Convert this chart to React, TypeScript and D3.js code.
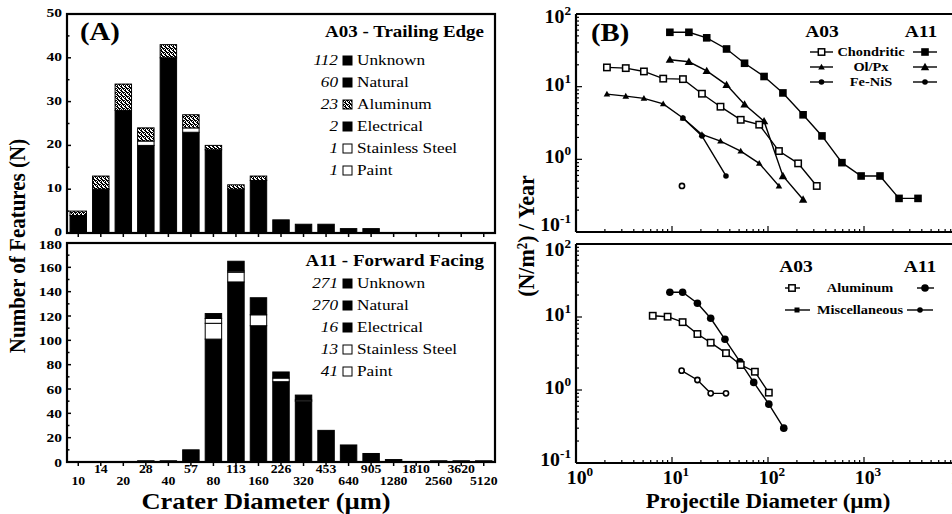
import React from "react";
import * as d3 from "d3";

const FONT = "'Liberation Serif', 'Times New Roman', serif";
const SX = 1.15;

// ---------- Panel A data ----------
const binLabels = ["10","14","20","28","40","57","80","113","160","226","320","453","640","905","1280","1810","2560","3620","5120"];

// A03 trailing edge (stacked, bottom to top)
const a03Black = [4,10,28,20,40,23,19,10,12,3,2,2,1,1,0,0,0,0,0];
const a03Steel = [0,0,0,1,0,0,0,0,0,0,0,0,0,0,0,0,0,0,0];
const a03Paint = [0,0,0,0,0,1,0,0,0,0,0,0,0,0,0,0,0,0,0];
const a03Aluminum = [1,3,6,3,3,3,1,1,1,0,0,0,0,0,0,0,0,0,0];

// A11 forward facing (stacked, bottom to top)
const a11Black = [0,0,0,1,1,10,101,148,112,66,50,26,14,7,2,0,1,1,1];
const a11Paint = [0,0,0,0,0,0,13,8,9,3,1,0,0,0,0,0,0,0,0];
const a11Steel = [0,0,0,0,0,0,4,1,0,0,0,0,0,0,0,0,0,0,0];
const a11Electrical = [0,0,0,0,0,0,4,8,14,5,4,0,0,0,0,0,0,0,0];

const a03LegendNames = ["Unknown","Natural","Aluminum","Electrical","Stainless Steel","Paint"];
const a03LegendCounts = ["112","60","23","2","1","1"];
const a11LegendNames = ["Unknown","Natural","Electrical","Stainless Steel","Paint"];
const a11LegendCounts = ["271","270","16","13","41"];

const yTicksA03 = [0,10,20,30,40,50];
const yTicksA11 = [0,20,40,60,80,100,120,140,160,180];

// ---------- Panel B data ----------
const chondA11D = [9.5,15,23,37,57,91,143,232,365,589,933,1468,2317,3652];
const chondA11V = [56,56,47,33,21,13.8,8.2,4.1,2.1,0.9,0.59,0.59,0.29,0.29];
const olpxA11D = [9.5,15,23,37,57,91,143,232];
const olpxA11V = [23.5,22,16.5,10.6,5.7,3.35,0.59,0.28];
const chondA03D = [2.1,3.3,5.1,8.1,13,20.5,32,52,81,130,206,322];
const chondA03V = [18.4,18,16.2,12.9,12.7,8.0,5.3,3.5,3.0,1.3,0.88,0.43];
const olpxA03D = [2.1,3.3,5.1,8.1,13,20.5,32,52,81,130];
const olpxA03V = [7.9,7.4,6.9,5.8,3.7,2.2,1.78,1.3,0.88,0.43];
const fenisA03D = [13,20.5,36.5];
const fenisA03V = [3.7,2.1,0.59];
const loneA03D = [12.7];
const loneA03V = [0.43];

const alA11D = [9.5,12.9,18.4,25.3,35.6,51,71,102,146];
const alA11V = [21.8,21.8,15.4,9.6,4.95,2.44,1.27,0.64,0.30];
const alA03D = [6.3,9.0,12.9,18.4,25.3,36.5,52,73,102];
const alA03V = [10.4,10.1,8.5,5.85,4.45,3.2,2.2,1.78,0.92];
const miscA03D = [12.6,18.4,25.3,36.5];
const miscA03V = [1.84,1.37,0.9,0.9];

const decadesX = [0,1,2,3,4];
const decadesY = [-1,0,1,2];

// ---------- helpers ----------
function T({x,y,anchor="start",size=14,weight="bold",italic=false,rotate=0,sx=SX,children}:any){
  const tr = rotate ? `translate(${x},${y}) rotate(${rotate}) scale(1,${sx})` : `translate(${x},${y}) scale(${sx},1)`;
  return (
    <g transform={tr}>
      <text textAnchor={anchor} fontSize={size} fontWeight={weight} fontStyle={italic?"italic":"normal"} fontFamily={FONT} fill="#000">{children}</text>
    </g>
  );
}

function Marker({type,x,y}:any){
  switch(type){
    case "fsq": return <rect x={x-3.8} y={y-3.8} width={7.6} height={7.6} fill="#000"/>;
    case "osq": return <rect x={x-3.2} y={y-3.2} width={6.4} height={6.4} fill="#fff" stroke="#000" strokeWidth={1.5}/>;
    case "tri": { const s=4.2; return <path d={`M${x},${y-s} L${x+s},${y+s*0.75} L${x-s},${y+s*0.75}Z`} fill="#000"/>; }
    case "stri": { const s=3.3; return <path d={`M${x},${y-s} L${x+s},${y+s*0.75} L${x-s},${y+s*0.75}Z`} fill="#000"/>; }
    case "fcirc": return <circle cx={x} cy={y} r={3.8} fill="#000"/>;
    case "scirc": return <circle cx={x} cy={y} r={2.8} fill="#000"/>;
    case "ocirc": return <circle cx={x} cy={y} r={2.6} fill="#fff" stroke="#000" strokeWidth={1.6}/>;
    case "ssq": return <rect x={x-2.5} y={y-2.5} width={5} height={5} fill="#000"/>;
    default: return null;
  }
}

function Series({D,V,x,y,marker,line=true}:any){
  const pts = D.map((d:number,i:number)=>[x(d),y(V[i])] as [number,number]);
  const path = d3.line()(pts) || "";
  return (
    <g>
      {line && <path d={path} fill="none" stroke="#000" strokeWidth={1.4}/>}
      {pts.map((p:any,i:number)=><Marker key={i} type={marker} x={p[0]} y={p[1]}/>)}
    </g>
  );
}

function LogAxes({x,y,top,bottom,left,labelShift}:any){
  const yt = y.ticks();
  const xt = x.ticks();
  return (
    <g>
      {yt.map((t:number,i:number)=>{
        const major = Math.abs(Math.log10(t)-Math.round(Math.log10(t)))<1e-6;
        return <line key={"y"+i} x1={left} x2={left+(major?6:3)} y1={y(t)} y2={y(t)} stroke="#000" strokeWidth={1.2}/>;
      })}
      {xt.map((t:number,i:number)=>{
        const major = Math.abs(Math.log10(t)-Math.round(Math.log10(t)))<1e-6;
        return <line key={"x"+i} x1={x(t)} x2={x(t)} y1={bottom} y2={bottom-(major?6:3)} stroke="#000" strokeWidth={1.2}/>;
      })}
      <line x1={left} x2={960} y1={top} y2={top} stroke="#000" strokeWidth={2.2}/>
      <line x1={left} x2={960} y1={bottom} y2={bottom} stroke="#000" strokeWidth={2.2}/>
      <line x1={left} x2={left} y1={top} y2={bottom} stroke="#000" strokeWidth={2.2}/>
      {decadesY.map((e,k)=>(
        <g key={"yl"+e}>
          <T x={571} y={y(Math.pow(10,e))+labelShift[k]} anchor="end" size={18} sx={1.1}>10<tspan dy={-8} fontSize={12}>{e}</tspan></T>
        </g>
      ))}
    </g>
  );
}

export default function App(){
  const W=952, H=514;
  // Panel A scales
  const xA = d3.scaleBand<string>().domain(binLabels).range([67,495]).paddingInner(0.27).paddingOuter(0.135);
  const yA1 = d3.scaleLinear().domain([0,50]).range([233,14]);
  const yA2 = d3.scaleLinear().domain([0,180]).range([462,243]);
  // Panel B scales
  const xB = d3.scaleLog().domain([1,1e4]).range([576,960]);
  const yB1 = d3.scaleLog().domain([0.1,100]).range([232,14]);
  const yB2 = d3.scaleLog().domain([0.1,100]).range([463,244]);

  const rowsA03 = binLabels.map((b,i)=>({bin:b,black:a03Black[i],steel:a03Steel[i],paint:a03Paint[i],aluminum:a03Aluminum[i]}));
  const stA03 = d3.stack<any>().keys(["black","steel","paint","aluminum"])(rowsA03);
  const rowsA11 = binLabels.map((b,i)=>({bin:b,black:a11Black[i],paint:a11Paint[i],steel:a11Steel[i],electrical:a11Electrical[i]}));
  const stA11 = d3.stack<any>().keys(["black","paint","steel","electrical"])(rowsA11);
  const fillOf:any = {black:"#000",steel:"#fff",paint:"#fff",aluminum:"url(#stipple)",electrical:"#000"};

  const bars = (st:any, y:any) => st.map((s:any)=>s.map((d:any,i:number)=>{
    if(d[1]-d[0]<=0) return null;
    return <rect key={s.key+i} x={xA(binLabels[i])} y={y(d[1])} width={xA.bandwidth()} height={y(d[0])-y(d[1])} fill={fillOf[s.key]} stroke="#000" strokeWidth={1}/>;
  }));

  const xTickMarks = (y0:number) => binLabels.map((b,i)=>{
    const cx = (xA(b) as number)+xA.bandwidth()/2;
    return <line key={"xt"+i} x1={cx} x2={cx} y1={y0} y2={y0+4} stroke="#000" strokeWidth={1.5}/>;
  });

  const swatchA03 = ["#000","#000","url(#stipple)","#000","#fff","#fff"];
  const swatchA11 = ["#000","#000","#000","#fff","#fff"];
  const stip = [[1,0,1,1],[0,1,0,1],[1,1,0,0],[0,1,1,0]];

  return (
    <svg width={W} height={H} style={{position:"absolute",left:0,top:0,background:"#fff"}}>
      <defs>
        <pattern id="stipple" width={4} height={4} patternUnits="userSpaceOnUse">
          <rect width={4} height={4} fill="#fff"/>
          {stip.flatMap((row,r)=>row.map((c,k)=>c?<rect key={r+"-"+k} x={k} y={r} width={1} height={1} fill="#000"/>:null))}
        </pattern>
      </defs>
      <rect width={W} height={H} fill="#fff"/>

      {/* ===== Panel A top ===== */}
      {bars(stA03,yA1)}
      <rect x={67} y={14} width={428} height={219} fill="none" stroke="#000" strokeWidth={2.2}/>
      {xTickMarks(233)}
      {d3.range(0,51,5).map(v=>(
        <line key={"ya1"+v} x1={67} x2={67+(v%10===0?4:2.5)} y1={yA1(v)} y2={yA1(v)} stroke="#000" strokeWidth={1.5}/>
      ))}
      {yTicksA03.map(v=><T key={"la1"+v} x={62} y={yA1(v)+3} anchor="end" size={13.5}>{v}</T>)}
      <T x={80} y={40} size={25}>(A)</T>
      <T x={484} y={37} anchor="end" size={16.5}>A03 - Trailing Edge</T>
      {a03LegendNames.map((n,i)=>(
        <g key={"lg1"+i}>
          <T x={338} y={65+i*22} anchor="end" size={15} weight="normal" italic>{a03LegendCounts[i]}</T>
          <rect x={343} y={56+i*22} width={9} height={9} fill={swatchA03[i]} stroke="#000" strokeWidth={1}/>
          <T x={357} y={65+i*22} size={15} weight="normal">{n}</T>
        </g>
      ))}

      {/* ===== Panel A bottom ===== */}
      {bars(stA11,yA2)}
      <rect x={67} y={243} width={428} height={219} fill="none" stroke="#000" strokeWidth={2.2}/>
      {xTickMarks(462)}
      {d3.range(0,181,10).map(v=>(
        <line key={"ya2"+v} x1={67} x2={67+(v%20===0?4:2.5)} y1={yA2(v)} y2={yA2(v)} stroke="#000" strokeWidth={1.5}/>
      ))}
      {yTicksA11.map(v=><T key={"la2"+v} x={62} y={yA2(v)+(v===180?6:4.5)} anchor="end" size={13.5}>{v}</T>)}
      <T x={484} y={266} anchor="end" size={16.5}>A11 - Forward Facing</T>
      {a11LegendNames.map((n,i)=>(
        <g key={"lg2"+i}>
          <T x={338} y={288+i*22} anchor="end" size={15} weight="normal" italic>{a11LegendCounts[i]}</T>
          <rect x={343} y={279+i*22} width={9} height={9} fill={swatchA11[i]} stroke="#000" strokeWidth={1}/>
          <T x={357} y={288+i*22} size={15} weight="normal">{n}</T>
        </g>
      ))}
      {binLabels.map((b,i)=>{
        const cx=(xA(b) as number)+xA.bandwidth()/2;
        return <T key={"xl"+i} x={cx} y={i%2===0?485:472.5} anchor="middle" size={12}>{b}</T>;
      })}
      <T x={266} y={509} anchor="middle" size={23}>Crater Diameter (µm)</T>
      <T x={25} y={246} anchor="middle" size={21} rotate={-90} sx={1.05}>Number of Features (N)</T>

      {/* ===== Panel B top ===== */}
      <LogAxes x={xB} y={yB1} top={14} bottom={232} left={576} labelShift={[-1,4,4,9]}/>
      <T x={591} y={41} size={25}>(B)</T>
      <Series D={chondA11D} V={chondA11V} x={xB} y={yB1} marker="fsq"/>
      <Series D={olpxA11D} V={olpxA11V} x={xB} y={yB1} marker="tri"/>
      <Series D={chondA03D} V={chondA03V} x={xB} y={yB1} marker="osq"/>
      <Series D={olpxA03D} V={olpxA03V} x={xB} y={yB1} marker="stri"/>
      <Series D={fenisA03D} V={fenisA03V} x={xB} y={yB1} marker="scirc"/>
      <Series D={loneA03D} V={loneA03V} x={xB} y={yB1} marker="ocirc" line={false}/>
      <T x={822} y={37} anchor="middle" size={17}>A03</T>
      <T x={921} y={37} anchor="middle" size={17}>A11</T>
      {[["Chondritic","osq","fsq"],["Ol/Px","stri","tri"],["Fe-NiS","scirc","scirc"]].map((r,i)=>(
        <g key={"lb"+i}>
          <line x1={810} x2={833} y1={52+i*15} y2={52+i*15} stroke="#000" strokeWidth={1.4}/>
          <Marker type={r[1]} x={821.5} y={52+i*15}/>
          <T x={871} y={56+i*15} anchor="middle" size={12.5}>{r[0]}</T>
          <line x1={913} x2={937} y1={52+i*15} y2={52+i*15} stroke="#000" strokeWidth={1.4}/>
          <Marker type={r[2]} x={925} y={52+i*15}/>
        </g>
      ))}

      {/* ===== Panel B bottom ===== */}
      <LogAxes x={xB} y={yB2} top={244} bottom={463} left={576} labelShift={[3,4,4,12]}/>
      <Series D={alA11D} V={alA11V} x={xB} y={yB2} marker="fcirc"/>
      <Series D={alA03D} V={alA03V} x={xB} y={yB2} marker="osq"/>
      <Series D={miscA03D} V={miscA03V} x={xB} y={yB2} marker="ocirc"/>
      <T x={796} y={272} anchor="middle" size={17}>A03</T>
      <T x={920} y={272} anchor="middle" size={17}>A11</T>
      <line x1={785} x2={800} y1={288} y2={288} stroke="#000" strokeWidth={1.4}/>
      <Marker type="osq" x={792} y={288}/>
      <T x={860} y={292} anchor="middle" size={12.5}>Aluminum</T>
      <line x1={917} x2={934} y1={288} y2={288} stroke="#000" strokeWidth={1.4}/>
      <Marker type="fcirc" x={925} y={288}/>
      <line x1={785} x2={810} y1={310} y2={310} stroke="#000" strokeWidth={1.4}/>
      <Marker type="ssq" x={797} y={310}/>
      <T x={860} y={314} anchor="middle" size={12.5}>Miscellaneous</T>
      <line x1={907} x2={933} y1={310} y2={310} stroke="#000" strokeWidth={1.4}/>
      <Marker type="scirc" x={920} y={310}/>

      {decadesX.map(e=>(
        <T key={"xb"+e} x={xB(Math.pow(10,e))+4} y={484} anchor="middle" size={18} sx={1.1}>10<tspan dy={-8} fontSize={12}>{e}</tspan></T>
      ))}
      <T x={768} y={508} anchor="middle" size={20}>Projectile Diameter (µm)</T>
      <T x={534} y={236} anchor="middle" size={22} rotate={-90} sx={1.05}>(N/m<tspan dy={-7} fontSize={13}>2</tspan><tspan dy={7}>) / Year</tspan></T>
    </svg>
  );
}
